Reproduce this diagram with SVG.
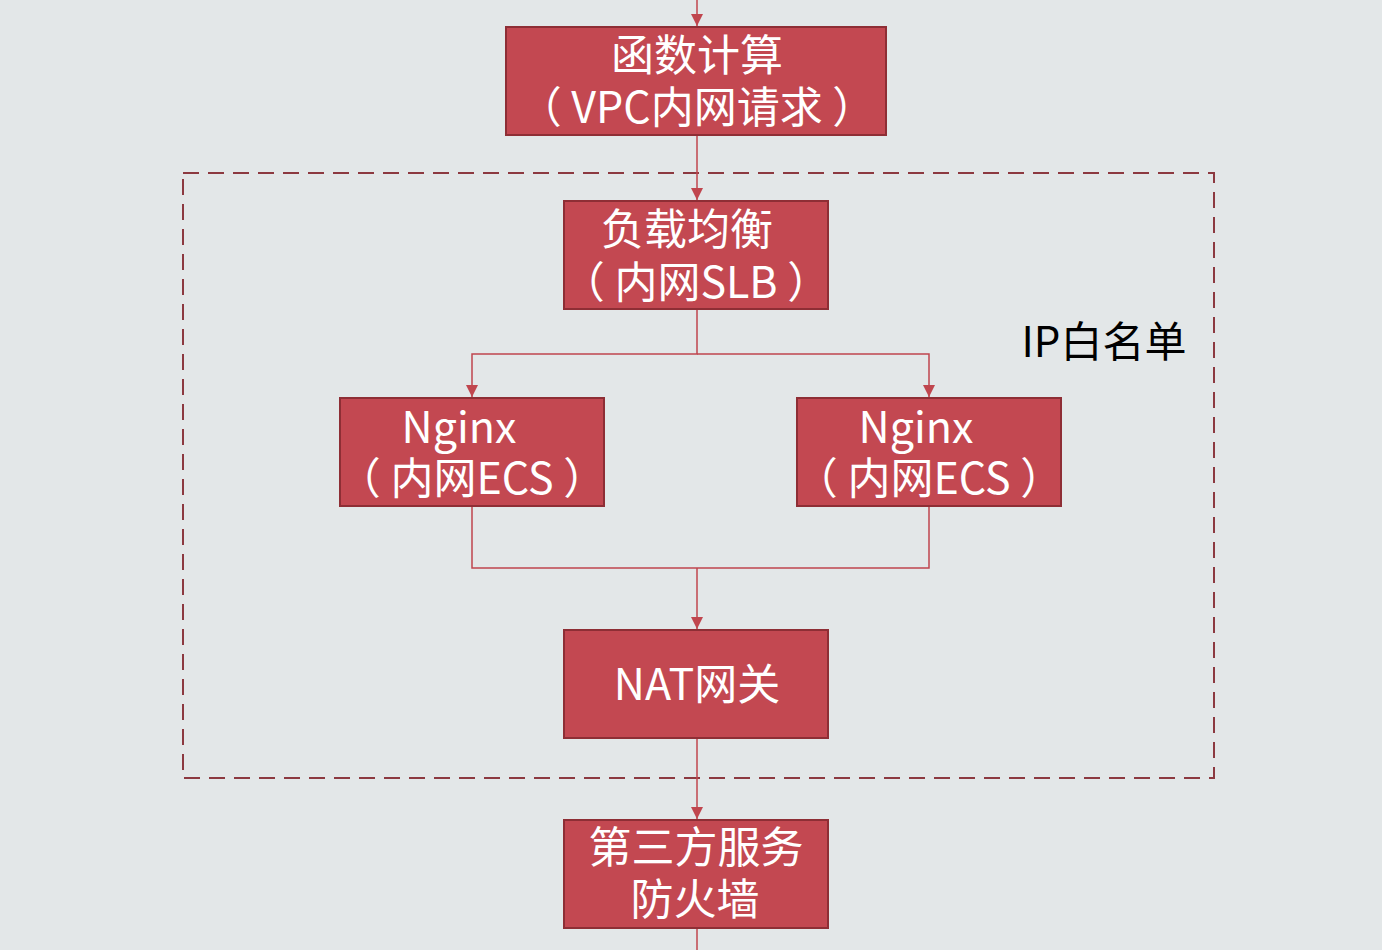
<svg xmlns="http://www.w3.org/2000/svg" width="1382" height="950" viewBox="0 0 1382 950">
<style>
.box{fill:#c34851;stroke:#8e2e35;stroke-width:2}
.t{font-family:"Noto Sans CJK SC","Noto Sans",sans-serif;font-size:43px;fill:#ffffff;text-anchor:middle;dominant-baseline:central}
.c{fill:none;stroke:#c0464e;stroke-width:1.5}
</style>
<defs>
<marker id="ah" viewBox="0 0 12 12" refX="12" refY="6" markerWidth="12" markerHeight="12" markerUnits="userSpaceOnUse" orient="auto">
<path d="M0,0 L12,6 L0,12 Z" fill="#c0464e"/>
</marker>
</defs>
<rect width="1382" height="950" fill="#e3e7e8"/>
<g id="whitelist">
<rect x="183" y="173" width="1031" height="605" fill="none" stroke="#8c3940" stroke-width="2" stroke-dasharray="16 9"/>
<text x="1104" y="338" font-family="Noto Sans CJK SC,sans-serif" font-size="42" fill="#000" text-anchor="middle" dominant-baseline="central">IP白名单</text>
</g>
<g id="connectors">
<path class="c" d="M697,0 V26" marker-end="url(#ah)"/>
<path class="c" d="M697,135 V200" marker-end="url(#ah)"/>
<path class="c" d="M697,309 V354 H472 V397" marker-end="url(#ah)"/>
<path class="c" d="M697,354 H929 V397" marker-end="url(#ah)"/>
<path class="c" d="M472,506 V568 H929 V506"/>
<path class="c" d="M697,568 V629" marker-end="url(#ah)"/>
<path class="c" d="M697,738 V819" marker-end="url(#ah)"/>
<path class="c" d="M697,928 V950"/>
</g>
<g id="fc">
<rect class="box" x="506" y="27" width="380" height="108"/>
<text class="t" x="697" y="52">函数计算</text>
<text class="t" x="697" y="104">（ VPC内网请求 ）</text>
</g>
<g id="slb">
<rect class="box" x="564" y="201" width="264" height="108"/>
<text class="t" x="687" y="226">负载均衡</text>
<text class="t" x="696" y="279">（ 内网SLB ）</text>
</g>
<g id="ecs1">
<rect class="box" x="340" y="398" width="264" height="108"/>
<text class="t" x="459" y="424">Nginx</text>
<text class="t" x="472" y="475">（ 内网ECS ）</text>
</g>
<g id="ecs2">
<rect class="box" x="797" y="398" width="264" height="108"/>
<text class="t" x="916" y="424">Nginx</text>
<text class="t" x="929" y="475">（ 内网ECS ）</text>
</g>
<g id="nat">
<rect class="box" x="564" y="630" width="264" height="108"/>
<text class="t" x="697" y="681">NAT网关</text>
</g>
<g id="fw">
<rect class="box" x="564" y="820" width="264" height="108"/>
<text class="t" x="696" y="844">第三方服务</text>
<text class="t" x="695" y="896">防火墙</text>
</g>
</svg>
